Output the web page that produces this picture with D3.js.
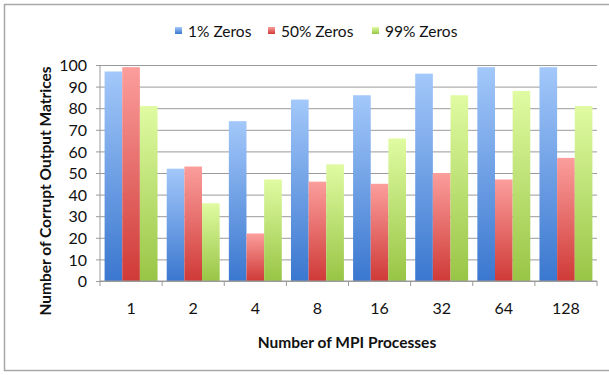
<!DOCTYPE html>
<html>
<head>
<meta charset="utf-8">
<script src="https://cdn.jsdelivr.net/npm/d3@7"></script>
<style>
  html, body { margin: 0; padding: 0; background: #fff; }
  svg text { font-family: Lato, "Open Sans", sans-serif; fill: #111; }
</style>
</head>
<body>
<svg id="chart" width="609" height="375"></svg>
<script>
// MPI process counts on the x axis
const processes = ["1", "2", "4", "8", "16", "32", "64", "128"];
// Corrupt output matrices per zero density
const zeros1 = [97, 52, 74, 84, 86, 96, 99, 99];
const zeros50 = [99, 53, 22, 46, 45, 50, 47, 57];
const zeros99 = [81, 36, 47, 54, 66, 86, 88, 81];
const seriesNames = ["1% Zeros", "50% Zeros", "99% Zeros"];
const yTicks = [0, 10, 20, 30, 40, 50, 60, 70, 80, 90, 100];

const seriesValues = [zeros1, zeros50, zeros99];
const gradients = [
  { id: "gBlue", top: "#a3c8fa", bottom: "#3a77cf" },
  { id: "gRed", top: "#fb9e9c", bottom: "#cf3a37" },
  { id: "gGreen", top: "#e0fba2", bottom: "#98c545" }
];

const svg = d3.select("#chart");
const W = 609;

const defs = svg.append("defs");
gradients.forEach(g => {
  const lg = defs.append("linearGradient").attr("id", g.id)
    .attr("x1", 0).attr("y1", 0).attr("x2", 0).attr("y2", 1);
  lg.append("stop").attr("offset", "0%").attr("stop-color", g.top);
  lg.append("stop").attr("offset", "100%").attr("stop-color", g.bottom);
});

// outer frame
svg.append("rect").attr("x", 4.5).attr("y", 4.5).attr("width", W + 10).attr("height", 366)
  .attr("fill", "#fff").attr("stroke", "#a8a8a8").attr("stroke-width", 1.5);

const x = d3.scaleBand().domain(processes).range([100, 597]).paddingInner(0).paddingOuter(0);
const y = d3.scaleLinear().domain([0, 100]).range([281, 65]);
const xs = d3.scaleBand().domain(d3.range(3)).range([0, x.bandwidth()]).paddingInner(0).paddingOuter(0.26);

// gridlines + y tick labels
const yAxis = d3.axisLeft(y).tickValues(yTicks).tickSize(-(597 - 96)).tickPadding(6).tickSizeOuter(0);
const gy = svg.append("g").attr("transform", "translate(96,0)").call(yAxis);
gy.select(".domain").remove();
gy.selectAll(".tick line").attr("stroke", "#9a9a9a").attr("x1", 0).attr("x2", 597 - 96);
gy.selectAll(".tick text").attr("font-size", 16).attr("x", -9).attr("dy", "0.36em");

// y axis line
svg.append("line").attr("x1", 100).attr("x2", 100).attr("y1", 65).attr("y2", 281)
  .attr("stroke", "#9a9a9a");

// bars
processes.forEach((p, i) => {
  seriesValues.forEach((vals, s) => {
    svg.append("rect")
      .attr("x", x(p) + xs(s))
      .attr("y", y(vals[i]))
      .attr("width", xs.bandwidth())
      .attr("height", y(0) - y(vals[i]))
      .attr("fill", `url(#${gradients[s].id})`);
  });
});

// x axis
const xAxis = d3.axisBottom(x).tickSize(0).tickPadding(22);
const gx = svg.append("g").attr("transform", "translate(0,281)").call(xAxis);
gx.select(".domain").remove();
gx.selectAll(".tick text").attr("font-size", 16);
svg.append("line").attr("x1", 100).attr("x2", 597).attr("y1", 281).attr("y2", 281).attr("stroke", "#9a9a9a");
const bounds = processes.map(p => x(p)).concat([597]);
svg.selectAll(".xt").data(bounds).enter().append("line")
  .attr("x1", d => d).attr("x2", d => d).attr("y1", 281).attr("y2", 286).attr("stroke", "#9a9a9a");

// axis titles
svg.append("text").attr("x", 347).attr("y", 348).attr("text-anchor", "middle")
  .attr("font-size", 15.5).attr("font-weight", "bold").text("Number of MPI Processes");
svg.append("text").attr("transform", "translate(51,191) rotate(-90)").attr("text-anchor", "middle")
  .attr("font-size", 15.5).attr("font-weight", "bold").text("Number of Corrupt Output Matrices");

// legend
const legendX = [175, 268, 372];
seriesNames.forEach((n, s) => {
  svg.append("rect").attr("x", legendX[s]).attr("y", 27).attr("width", 7).attr("height", 7)
    .attr("fill", `url(#${gradients[s].id})`);
  svg.append("text").attr("x", legendX[s] + 13).attr("y", 37).attr("font-size", 15.5).text(n);
});
</script>
</body>
</html>
